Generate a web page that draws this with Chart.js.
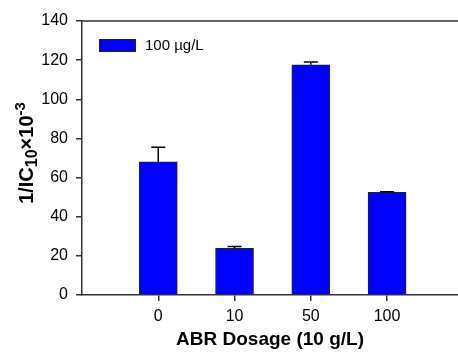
<!DOCTYPE html>
<html>
<head>
<meta charset="utf-8">
<script src="https://cdn.jsdelivr.net/npm/chart.js@4"></script>
<style>
  html, body { margin: 0; padding: 0; background: #fff; }
  #wrap { width: 458px; height: 352px; }
</style>
</head>
<body>
<div id="wrap"><canvas id="chart" width="458" height="352"></canvas></div>
<script>
  // data
  const categories = ["0", "10", "50", "100"];
  const values = [68, 23.8, 117.6, 52.4];
  const errors = [7.5, 1.0, 1.5, 0.4];
  const seriesLabel = "100 µg/L";
  const yTicks = [0, 20, 40, 60, 80, 100, 120, 140];

  const FONT = "Arial, 'Liberation Sans', sans-serif";
  const AXIS = "#333";

  // upward error bars, drawn from each bar element
  const errorBars = {
    id: "errorBars",
    afterDatasetsDraw(chart) {
      const ctx = chart.ctx;
      const meta = chart.getDatasetMeta(0);
      const y = chart.scales.y;
      ctx.save();
      ctx.strokeStyle = "#000";
      ctx.lineWidth = 1.5;
      meta.data.forEach((bar, i) => {
        const top = y.getPixelForValue(values[i] + errors[i]);
        ctx.beginPath();
        ctx.moveTo(bar.x, bar.y);
        ctx.lineTo(bar.x, top);
        ctx.moveTo(bar.x - 7, top);
        ctx.lineTo(bar.x + 7, top);
        ctx.stroke();
      });
      ctx.restore();
    }
  };

  // top frame line, legend inside plot, y title with sub/superscript
  const frame = {
    id: "frame",
    afterDraw(chart) {
      const { ctx, chartArea } = chart;
      const ds = chart.data.datasets[0];
      ctx.save();
      ctx.strokeStyle = AXIS;
      ctx.lineWidth = 1.5;
      ctx.beginPath();
      ctx.moveTo(chartArea.left, chartArea.top);
      ctx.lineTo(chartArea.right, chartArea.top);
      ctx.stroke();

      // legend
      const lx = chartArea.left + 17, ly = chartArea.top + 18;
      ctx.fillStyle = ds.backgroundColor;
      ctx.fillRect(lx, ly, 37, 13);
      ctx.strokeStyle = "#222";
      ctx.lineWidth = 1;
      ctx.strokeRect(lx + 0.5, ly + 0.5, 36, 12);
      ctx.fillStyle = "#000";
      ctx.font = `15px ${FONT}`;
      ctx.textBaseline = "middle";
      ctx.fillText(ds.label, lx + 46, ly + 7);

      const parts = [
        { t: "1/IC", size: 20, dy: 0 },
        { t: "10", size: 16, dy: 4 },
        { t: "×10", size: 20, dy: 0 },
        { t: "-3", size: 15, dy: -8 }
      ];
      let total = 0;
      parts.forEach(p => {
        ctx.font = `bold ${p.size}px ${FONT}`;
        p.w = ctx.measureText(p.t).width;
        total += p.w;
      });
      ctx.translate(33, 153);
      ctx.rotate(-Math.PI / 2);
      ctx.textBaseline = "alphabetic";
      let x = -total / 2;
      parts.forEach(p => {
        ctx.font = `bold ${p.size}px ${FONT}`;
        ctx.fillText(p.t, x, p.dy);
        x += p.w;
      });
      ctx.restore();
    }
  };

  new Chart(document.getElementById("chart"), {
    type: "bar",
    data: {
      datasets: [{
        label: seriesLabel,
        data: values.map((v, i) => ({ x: i + 1, y: v })),
        backgroundColor: "#0000ff",
        borderColor: "#222",
        borderWidth: 1,
        barThickness: 38
      }]
    },
    options: {
      responsive: false,
      animation: false,
      layout: { padding: { top: 21, right: 0, left: 0, bottom: 0 } },
      plugins: {
        legend: { display: false },
        tooltip: { enabled: false }
      },
      scales: {
        x: {
          type: "linear",
          min: 0,
          max: 4.93,
          offset: false,
          afterBuildTicks: s => { s.ticks = categories.map((c, i) => ({ value: i + 1 })); },
          afterFit: s => { s.height = 57; },
          ticks: {
            callback: v => categories[v - 1],
            color: "#000",
            padding: 6,
            maxRotation: 0,
            font: { family: FONT, size: 16 }
          },
          grid: { offset: false, drawOnChartArea: false, tickLength: 6, color: AXIS, lineWidth: 1.5 },
          border: { color: AXIS, width: 1.5 },
          title: {
            display: true,
            text: "ABR Dosage (10 g/L)",
            color: "#000",
            padding: { top: 0, bottom: 1 },
            font: { family: FONT, size: 19, weight: "bold" }
          }
        },
        y: {
          min: 0,
          max: 140,
          afterBuildTicks: s => { s.ticks = yTicks.map(v => ({ value: v })); },
          afterFit: s => { s.width = 82; },
          ticks: {
            color: "#000",
            padding: 8,
            font: { family: FONT, size: 16 }
          },
          grid: { drawOnChartArea: false, tickLength: 6, color: AXIS, lineWidth: 1.5 },
          border: { color: AXIS, width: 1.5 }
        }
      }
    },
    plugins: [errorBars, frame]
  });
</script>
</body>
</html>
